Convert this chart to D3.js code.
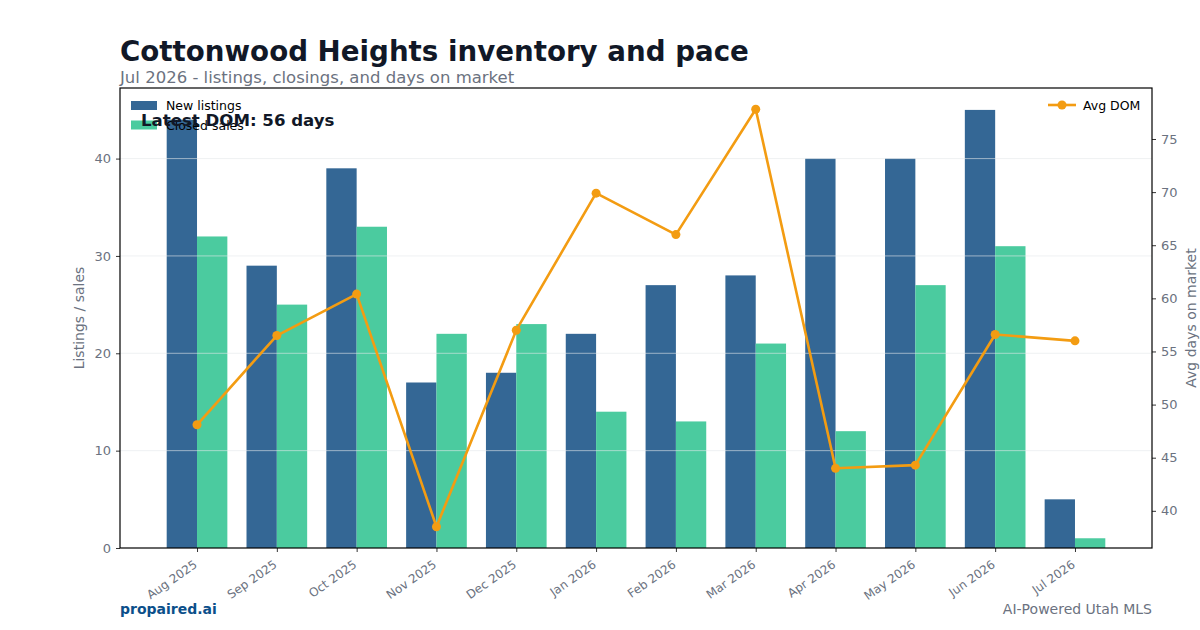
<!DOCTYPE html>
<html lang="en">
<head>
<meta charset="UTF-8">
<title>Cottonwood Heights inventory and pace</title>
<style>
  body { margin: 0; background: #fff; }
  svg text { font-family: "DejaVu Sans", sans-serif; }
</style>
</head>
<body>
<script src="https://cdn.jsdelivr.net/npm/d3@7"></script>
<script>
var months = ['Aug 2025', 'Sep 2025', 'Oct 2025', 'Nov 2025', 'Dec 2025', 'Jan 2026',
              'Feb 2026', 'Mar 2026', 'Apr 2026', 'May 2026', 'Jun 2026', 'Jul 2026'];
var newListings = [44, 29, 39, 17, 18, 22, 27, 28, 40, 40, 45, 5];
var closedSales = [32, 25, 33, 22, 23, 14, 13, 21, 12, 27, 31, 1];
var avgDom = [48.1, 56.5, 60.4, 38.5, 57.0, 69.9, 66.0, 77.8, 44.0, 44.3, 56.6, 56.0];
var leftTicks = [0, 10, 20, 30, 40];
var rightTicks = [40, 45, 50, 55, 60, 65, 70, 75];

var width = 1200, height = 630,
    plotL = 120, plotR = 1152, plotT = 88, plotB = 548,
    blue = '#346795', green = '#4bcb9f', orange = '#f39c12',
    grey = '#6b7280', dark = '#111827';

var svg = d3.select('body').append('svg')
    .attr('width', width)
    .attr('height', height);

var xScale = d3.scalePoint().domain(months).range([plotL, plotR]).padding(0.965);
var step = xScale.step();
var barW = step * 0.38;

var yMax = d3.max(newListings.concat(closedSales)) * 1.05;
var yScale = d3.scaleLinear().domain([0, yMax]).range([plotB, plotT]);
var domLo = d3.min(avgDom) - 2, domHi = d3.max(avgDom) + 2;
var y2Scale = d3.scaleLinear().domain([domLo, domHi]).range([plotB, plotT]);

// bars
svg.append('g').selectAll('rect')
    .data(newListings)
    .enter().append('rect')
    .attr('x', function(d, i) { return xScale(months[i]) - barW; })
    .attr('y', function(d) { return yScale(d); })
    .attr('width', barW)
    .attr('height', function(d) { return plotB - yScale(d); })
    .attr('fill', blue);

svg.append('g').selectAll('rect')
    .data(closedSales)
    .enter().append('rect')
    .attr('x', function(d, i) { return xScale(months[i]); })
    .attr('y', function(d) { return yScale(d); })
    .attr('width', barW)
    .attr('height', function(d) { return plotB - yScale(d); })
    .attr('fill', green);

// grid over bars, faint
svg.append('g').selectAll('line')
    .data(leftTicks.slice(1))
    .enter().append('line')
    .attr('x1', plotL).attr('x2', plotR)
    .attr('y1', function(d) { return yScale(d); })
    .attr('y2', function(d) { return yScale(d); })
    .attr('stroke', '#e5e7eb')
    .attr('stroke-opacity', 0.6)
    .attr('stroke-width', 1);

// DOM line
var line = d3.line()
    .x(function(d, i) { return xScale(months[i]); })
    .y(function(d) { return y2Scale(d); });

svg.append('path')
    .datum(avgDom)
    .attr('d', line)
    .attr('fill', 'none')
    .attr('stroke', orange)
    .attr('stroke-width', 2.6)
    .attr('stroke-linejoin', 'round');

svg.append('g').selectAll('circle')
    .data(avgDom)
    .enter().append('circle')
    .attr('cx', function(d, i) { return xScale(months[i]); })
    .attr('cy', function(d) { return y2Scale(d); })
    .attr('r', 4.5)
    .attr('fill', orange);

// axes
var yAxis = d3.axisLeft(yScale).tickValues(leftTicks).tickSize(4).tickPadding(5);
var y2Axis = d3.axisRight(y2Scale).tickValues(rightTicks).tickSize(4).tickPadding(5);
var xAxis = d3.axisBottom(xScale).tickSize(4).tickPadding(4);

function styleAxis(g) {
    g.select('.domain').remove();
    g.selectAll('line').attr('stroke', '#333');
    g.selectAll('text').attr('fill', grey).attr('font-size', 13)
        .attr('font-family', '"DejaVu Sans", sans-serif');
}

svg.append('g').attr('transform', 'translate(' + plotL + ',0)').call(yAxis).call(styleAxis);
svg.append('g').attr('transform', 'translate(' + plotR + ',0)').call(y2Axis).call(styleAxis);
var gx = svg.append('g').attr('transform', 'translate(0,' + plotB + ')').call(xAxis).call(styleAxis);
gx.selectAll('text')
    .attr('font-size', 12)
    .attr('text-anchor', 'end')
    .attr('y', 0)
    .attr('dy', '0.35em')
    .attr('transform', 'translate(-2,15) rotate(-35)');

// frame
svg.append('rect')
    .attr('x', plotL).attr('y', plotT)
    .attr('width', plotR - plotL).attr('height', plotB - plotT)
    .attr('fill', 'none').attr('stroke', '#000').attr('stroke-width', 1.2);

// axis titles
svg.append('text')
    .attr('transform', 'translate(84,' + ((plotT + plotB) / 2) + ') rotate(-90)')
    .attr('text-anchor', 'middle')
    .attr('fill', grey).attr('font-size', 14)
    .text('Listings / sales');

svg.append('text')
    .attr('transform', 'translate(1196,' + ((plotT + plotB) / 2) + ') rotate(-90)')
    .attr('text-anchor', 'middle')
    .attr('fill', grey).attr('font-size', 14)
    .text('Avg days on market');

// legends
var legendItems = [{ label: 'New listings', color: blue }, { label: 'Closed sales', color: green }];
var lg = svg.append('g');
legendItems.forEach(function(d, i) {
    lg.append('rect').attr('x', 131).attr('y', 101 + i * 19.5).attr('width', 26).attr('height', 9).attr('fill', d.color);
    lg.append('text').attr('x', 166).attr('y', 110 + i * 19.5).attr('font-size', 12.5).attr('fill', '#000').text(d.label);
});

svg.append('line').attr('x1', 1048).attr('x2', 1076).attr('y1', 105).attr('y2', 105)
    .attr('stroke', orange).attr('stroke-width', 2.6);
svg.append('circle').attr('cx', 1062).attr('cy', 105).attr('r', 4.5).attr('fill', orange);
svg.append('text').attr('x', 1083).attr('y', 110).attr('font-size', 12.5).attr('fill', '#000').text('Avg DOM');

svg.append('text')
    .attr('x', 141).attr('y', 126)
    .attr('font-size', 16.6).attr('font-weight', 'bold').attr('fill', dark)
    .text('Latest DOM: ' + Math.round(avgDom[avgDom.length - 1]) + ' days');

// titles
svg.append('text')
    .attr('x', 120).attr('y', 61)
    .attr('font-size', 27.7).attr('font-weight', 'bold').attr('fill', dark)
    .text('Cottonwood Heights inventory and pace');

svg.append('text')
    .attr('x', 120).attr('y', 83)
    .attr('font-size', 16.5).attr('fill', grey)
    .text('Jul 2026 - listings, closings, and days on market');

// footer
svg.append('text')
    .attr('x', 120).attr('y', 614)
    .attr('font-size', 14).attr('font-weight', 'bold').attr('fill', '#0b4f8a')
    .text('propaired.ai');

svg.append('text')
    .attr('x', 1152).attr('y', 614)
    .attr('text-anchor', 'end')
    .attr('font-size', 14).attr('fill', grey)
    .text('AI-Powered Utah MLS');
</script>
</body>
</html>
